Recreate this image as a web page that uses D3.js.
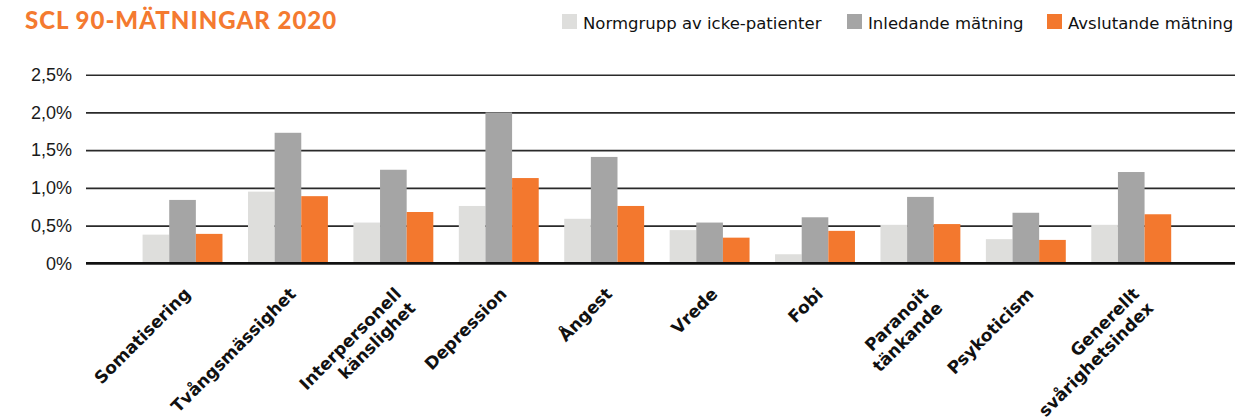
<!DOCTYPE html>
<html>
<head>
<meta charset="utf-8">
<script src="https://cdn.jsdelivr.net/npm/d3@7"></script>
<style>
  body { margin: 0; background: #fff; }
  svg { display: block; font-family: "DejaVu Sans", sans-serif; }
</style>
</head>
<body>
<svg id="chart" width="1236" height="417"></svg>
<script>
// data
const categories = ["Somatisering", "Tvångsmässighet", "Interpersonell känslighet", "Depression", "Ångest",
    "Vrede", "Fobi", "Paranoit tänkande", "Psykoticism", "Generellt svårighetsindex"];
const tickLabels = [["Somatisering"], ["Tvångsmässighet"], ["Interpersonell", "känslighet"], ["Depression"], ["Ångest"],
    ["Vrede"], ["Fobi"], ["Paranoit", "tänkande"], ["Psykoticism"], ["Generellt", "svårighetsindex"]];
const seriesNames = ["Normgrupp av icke-patienter", "Inledande mätning", "Avslutande mätning"];
const normgrupp = [0.38, 0.95, 0.54, 0.76, 0.59, 0.44, 0.12, 0.51, 0.32, 0.51];
const inledande = [0.84, 1.73, 1.24, 2.00, 1.41, 0.54, 0.61, 0.88, 0.67, 1.21];
const avslutande = [0.39, 0.89, 0.68, 1.13, 0.76, 0.34, 0.43, 0.52, 0.31, 0.65];
const yTicks = [0, 0.5, 1.0, 1.5, 2.0, 2.5];

const colors = ["#dededc", "#a5a5a5", "#f3782e"];

const svg = d3.select("#chart");

// skalor
const x0 = d3.scaleBand()
    .domain(categories)
    .range([86, 1235])
    .paddingInner(0.242)
    .paddingOuter(0.571)
    .align(0.47);

const x1 = d3.scaleBand()
    .domain(seriesNames)
    .range([0, x0.bandwidth()]);

const y = d3.scaleLinear()
    .domain([0, 2.5])
    .range([263.3, 74.7]);

const fmt = d => d === 0 ? "0%" : d3.format(".1f")(d).replace(".", ",") + "%";

// rutnät + y-axel
const yAxis = svg.append("g")
    .attr("transform", "translate(86,0)")
    .call(d3.axisLeft(y).tickValues(yTicks).tickFormat(fmt).tickSize(-(1235 - 86)).tickPadding(14));
yAxis.select(".domain").remove();
yAxis.selectAll(".tick line")
    .attr("stroke", "#2a2a2a")
    .attr("stroke-width", 1.6);
yAxis.selectAll(".tick text")
    .attr("fill", "#1a1a1a")
    .style("font-size", "18px");

// staplar
const rows = categories.map((c, i) => ({ cat: c, vals: [normgrupp[i], inledande[i], avslutande[i]] }));

svg.append("g")
    .selectAll("g")
    .data(rows)
    .join("g")
    .attr("transform", d => `translate(${x0(d.cat)},0)`)
    .selectAll("rect")
    .data(d => d.vals.map((v, k) => ({ key: seriesNames[k], v: v, k: k })))
    .join("rect")
    .attr("x", d => x1(d.key))
    .attr("y", d => y(d.v))
    .attr("width", x1.bandwidth())
    .attr("height", d => y(0) - y(d.v))
    .attr("fill", d => colors[d.k]);

// baslinje
svg.append("line")
    .attr("x1", 86).attr("x2", 1235)
    .attr("y1", y(0)).attr("y2", y(0))
    .attr("stroke", "#111")
    .attr("stroke-width", 2.4);

// x-etiketter, roterade -45 grader och högerställda mot gruppens mitt
const lab = svg.append("g")
    .selectAll("text")
    .data(categories)
    .join("text")
    .attr("transform", d => `translate(${x0(d) + x0.bandwidth() / 2 + 9},295) rotate(-45)`)
    .attr("text-anchor", "end")
    .attr("fill", "#111")
    .style("font-size", "17px")
    .style("font-weight", "bold");

lab.selectAll("tspan")
    .data((d, i) => tickLabels[i].map((t, j) => ({ t, j })))
    .join("tspan")
    .attr("x", 0)
    .attr("dy", d => d.j === 0 ? 0 : "1.18em")
    .text(d => d.t);

// titel
svg.append("text")
    .attr("x", 25)
    .attr("y", 29)
    .attr("fill", "#f47a30")
    .style("font-family", "Lato, sans-serif")
    .style("font-size", "24px")
    .style("font-weight", "900")
    .style("letter-spacing", "1px")
    .text("SCL 90-MÄTNINGAR 2020");

// legend
const legendX = [562, 847, 1047];
const legend = svg.append("g")
    .selectAll("g")
    .data(seriesNames)
    .join("g")
    .attr("transform", (d, i) => `translate(${legendX[i]},14)`);

legend.append("rect")
    .attr("width", 15)
    .attr("height", 15)
    .attr("fill", (d, i) => colors[i]);

legend.append("text")
    .attr("x", 21)
    .attr("y", 15)
    .attr("fill", "#111")
    .style("font-size", "16.5px")
    .text(d => d);
</script>
</body>
</html>
